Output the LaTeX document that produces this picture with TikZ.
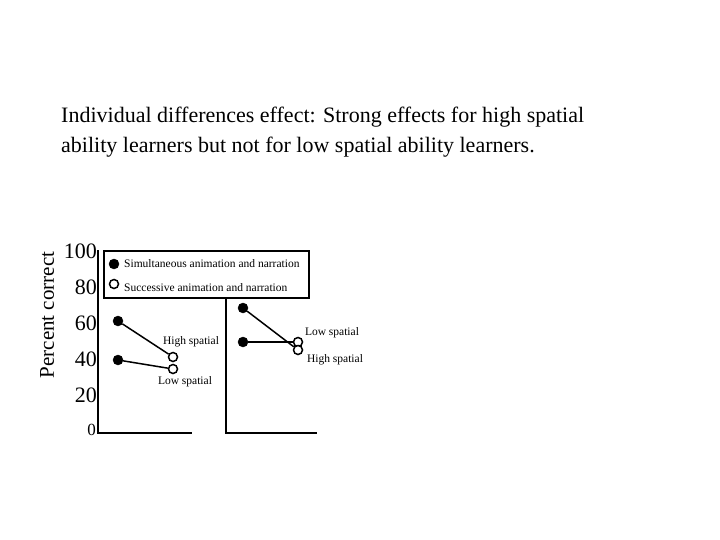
\documentclass[tikz,border=0pt]{standalone}
\usepackage{fontspec}
\setmainfont{Liberation Serif}
\begin{document}
\begin{tikzpicture}[x=1pt,y=-1pt,
  ax/.style={line width=1.6pt},
  fdot/.style={circle,fill=black,draw=black,minimum size=10pt,inner sep=0pt},
  odot/.style={circle,fill=white,draw=black,line width=1.5pt,minimum size=9pt,inner sep=0pt},
  tick/.style={anchor=east,font=\fontsize{22}{22}\selectfont,inner sep=0pt},
  lab/.style={font=\fontsize{11.5}{12}\selectfont,inner sep=0pt},
  con/.style={line width=1.5pt}]
\useasboundingbox (0,0) rectangle (720,540);
\node[anchor=west,align=left,font=\fontsize{22}{30}\selectfont,inner sep=0pt] (title) at (61,132)
 {Individual differences effect: Strong effects for high spatial\\ability learners but not for low spatial ability learners.};
\node[rotate=90,font=\fontsize{21}{21}\selectfont,inner sep=0pt] (ytitle) at (47,315) {Percent correct};
\node[tick] (t100) at (97,251) {100};
\node[tick] (t80) at (97,287) {80};
\node[tick] (t60) at (97,323) {60};
\node[tick] (t40) at (97,359) {40};
\node[tick] (t20) at (97,395) {20};
\node[tick,font=\fontsize{17}{17}\selectfont] (t0) at (96,430) {0};
\coordinate (a1) at (98,250); \coordinate (a2) at (98,433); \coordinate (a3) at (192,433);
\coordinate (b1) at (226,299); \coordinate (b2) at (226,433); \coordinate (b3) at (317,433);
\draw[ax] (a1) -- (a2) -- (a3);
\draw[ax] (b1) -- (b2) -- (b3);
\draw[line width=1.8pt,fill=white] (104,251) rectangle (309,298);
\node[fdot] (lf) at (114,264) {};
\node[odot] (lo) at (114,284) {};
\node[lab,anchor=west] (lt1) at (124,264) {Simultaneous animation and narration};
\node[lab,anchor=west] (lt2) at (124,288) {Successive animation and narration};
\node[fdot] (p1) at (118,321) {};
\node[fdot] (p2) at (118,360) {};
\node[odot] (q1) at (173,357) {};
\node[odot] (q2) at (173,369) {};
\draw[con] (p1) -- (q1);
\draw[con] (p2) -- (q2);
\node[fdot] (r1) at (243,308) {};
\node[fdot] (r2) at (243,342) {};
\node[odot] (s1) at (298,342) {};
\node[odot] (s2) at (298,350) {};
\draw[con] (r1) -- (s2);
\draw[con] (r2) -- (s1);
\node[lab] (h1) at (191,342) {High spatial};
\node[lab] (l1) at (185,382) {Low spatial};
\node[lab] (l2) at (332,333) {Low spatial};
\node[lab] (h2) at (335,360) {High spatial};
\end{tikzpicture}
\end{document}
